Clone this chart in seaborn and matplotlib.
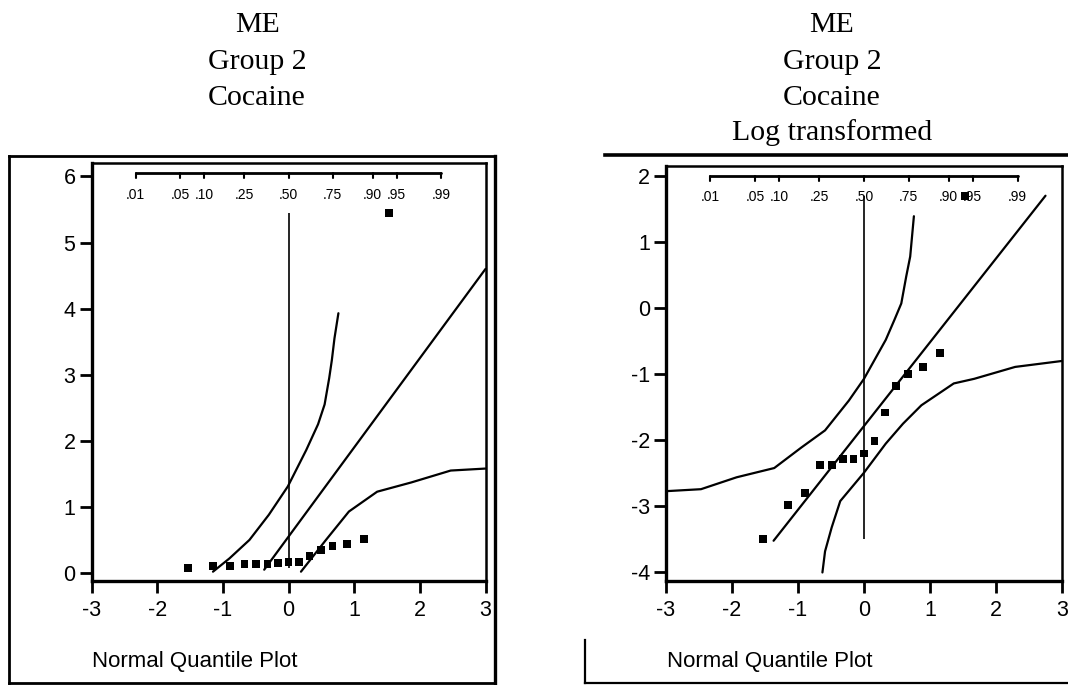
import matplotlib
matplotlib.use("Agg")
import matplotlib.pyplot as plt
from matplotlib.lines import Line2D
import seaborn as sns
import pandas as pd
import numpy as np
from statistics import NormalDist

# ---- data -------------------------------------------------------------
# normal quantile (plotting position) of each ranked observation
normal_quantiles = [-1.53, -1.15, -0.89, -0.67, -0.49, -0.32, -0.16, 0.0,
                    0.16, 0.32, 0.49, 0.67, 0.89, 1.15, 1.53]

# ME, group 2, cocaine (raw)
me_raw = [0.07, 0.10, 0.10, 0.13, 0.13, 0.13, 0.15, 0.17,
          0.17, 0.26, 0.35, 0.41, 0.44, 0.52, 5.45]
# ME, group 2, cocaine (log transformed)
me_log = [-3.49, -2.98, -2.80, -2.37, -2.37, -2.28, -2.28, -2.20,
          -2.01, -1.58, -1.18, -1.00, -0.89, -0.68, 1.70]

# fitted normal reference lines (end points)
raw_fit_x = [-0.37, 3.0]
raw_fit_y = [0.05, 4.60]
log_fit_x = [-1.37, 2.75]
log_fit_y = [-3.52, 1.70]

# confidence bands, raw panel
raw_upper_x = [-1.15, -0.90, -0.595, -0.30, -0.01, 0.27, 0.45, 0.55, 0.62, 0.66, 0.70, 0.76]
raw_upper_y = [0.02, 0.22, 0.50, 0.88, 1.31, 1.86, 2.25, 2.55, 2.95, 3.22, 3.55, 3.93]
raw_lower_x = [0.19, 0.38, 0.57, 0.92, 1.35, 1.87, 2.47, 3.0]
raw_lower_y = [0.02, 0.26, 0.50, 0.93, 1.23, 1.37, 1.55, 1.58]

# confidence bands, log panel
log_upper_x = [-3.0, -2.47, -1.93, -1.36, -0.95, -0.59, -0.23, 0.0, 0.33,
               0.46, 0.565, 0.64, 0.70, 0.756]
log_upper_y = [-2.77, -2.74, -2.56, -2.42, -2.11, -1.85, -1.40, -1.07, -0.48,
               -0.18, 0.07, 0.48, 0.78, 1.39]
log_lower_x = [-0.63, -0.59, -0.49, -0.36, 0.0, 0.33, 0.59, 0.87, 1.36,
               1.67, 2.29, 3.0]
log_lower_y = [-4.0, -3.68, -3.32, -2.92, -2.49, -2.05, -1.75, -1.47, -1.14,
               -1.07, -0.89, -0.80]

# probability scale along the top
prob_values = [0.01, 0.05, 0.10, 0.25, 0.50, 0.75, 0.90, 0.95, 0.99]
prob_labels = [".01", ".05", ".10", ".25", ".50", ".75", ".90", ".95", ".99"]

x_ticks = [-3, -2, -1, 0, 1, 2, 3]
raw_y_ticks = [0, 1, 2, 3, 4, 5, 6]
log_y_ticks = [-4, -3, -2, -1, 0, 1, 2]

left_title = ["ME", "Group 2", "Cocaine"]
right_title = ["ME", "Group 2", "Cocaine", "Log transformed"]
footer = "Normal Quantile Plot"

# ---- figure -----------------------------------------------------------
W, H = 1068, 685
sns.set_theme(style="ticks")
plt.rcParams["font.family"] = ["Liberation Sans", "DejaVu Sans"]
plt.rcParams["axes.unicode_minus"] = False
plt.rcParams["text.color"] = "black"
plt.rcParams["axes.edgecolor"] = "black"

fig = plt.figure(figsize=(W / 100, H / 100), dpi=100)
fig.patch.set_facecolor("white")


def px_axes(x0, y0, x1, y1):
    return fig.add_axes([x0 / W, 1 - y1 / H, (x1 - x0) / W, (y1 - y0) / H])


def fig_line(x0, y0, x1, y1, lw=2.0, color="black"):
    fig.add_artist(Line2D([x0 / W, x1 / W], [1 - y0 / H, 1 - y1 / H],
                          transform=fig.transFigure, color=color, lw=lw,
                          solid_capstyle="projecting"))


def quantile_panel(ax, values, fit_x, fit_y, up_x, up_y, lo_x, lo_y,
                   ylim, yticks, scale_y):
    ax.set_facecolor("white")
    # confidence curves and fitted line
    for cx, cy in [(up_x, up_y), (lo_x, lo_y), (fit_x, fit_y)]:
        sns.lineplot(x=cx, y=cy, ax=ax, color="black", lw=1.6,
                     sort=False, estimator=None, zorder=3)
    # median reference line spanning the data range
    ax.vlines(0, min(values), max(values), color="black", lw=1.2, zorder=3)

    # probability scale along the top
    nd = NormalDist()
    pz = [nd.inv_cdf(p) for p in prob_values]
    tr = ax.get_xaxis_transform()
    ax.plot([pz[0], pz[-1]], [scale_y, scale_y], transform=tr,
            color="black", lw=2.0, clip_on=False, zorder=4)
    for z, lab in zip(pz, prob_labels):
        ax.plot([z, z], [scale_y, scale_y - 0.013], transform=tr,
                color="black", lw=1.5, zorder=4)
        ax.text(z, scale_y - 0.052, lab, transform=tr, ha="center",
                va="center", fontsize=10, color="black", zorder=4)

    # data points
    sns.scatterplot(x=normal_quantiles, y=values, ax=ax, marker="s", s=32,
                    color="black", edgecolor="none", linewidth=0, zorder=6)

    ax.set_xlim(-3, 3)
    ax.set_ylim(*ylim)
    ax.set_xticks(x_ticks)
    ax.set_yticks(yticks)
    ax.set_xticklabels([str(t) for t in x_ticks])
    ax.set_yticklabels([str(t) for t in yticks])
    ax.tick_params(axis="both", direction="out", length=8.5, width=2.0,
                   labelsize=15.5, color="black", labelcolor="black")
    ax.tick_params(axis="x", pad=5)
    ax.tick_params(axis="y", pad=3)
    for side in ["left", "bottom"]:
        ax.spines[side].set_linewidth(2.4)
    for side in ["top", "right"]:
        ax.spines[side].set_linewidth(1.8)
    for sp in ax.spines.values():
        sp.set_color("black")
        sp.set_visible(True)
    ax.set_xlabel("")
    ax.set_ylabel("")


ax_l = px_axes(91.5, 163, 485.5, 581)
ax_r = px_axes(666, 166, 1062, 581)

quantile_panel(ax_l, me_raw, raw_fit_x, raw_fit_y, raw_upper_x, raw_upper_y,
               raw_lower_x, raw_lower_y, (-0.121, (573 - 163) / 66.1),
               raw_y_ticks, 0.976)
quantile_panel(ax_r, me_log, log_fit_x, log_fit_y, log_upper_x, log_upper_y,
               log_lower_x, log_lower_y, (-4.129, -4 + (572.5 - 166) / 66.1),
               log_y_ticks, 0.977)

# titles
serif = ["Liberation Serif", "DejaVu Serif"]
baselines = [32, 69, 105, 140]
for i, line in enumerate(left_title):
    fig.text(257 / W, 1 - baselines[i] / H, line, ha="center", va="baseline",
             fontsize=21.5, family=serif, color="black")
for i, line in enumerate(right_title):
    fig.text(832 / W, 1 - baselines[i] / H, line, ha="center", va="baseline",
             fontsize=21.5, family=serif, color="black")

# footers
fig.text(92 / W, 1 - 661 / H, footer, ha="left", va="center", fontsize=16,
         color="black")
fig.text(667 / W, 1 - 661 / H, footer, ha="left", va="center", fontsize=16,
         color="black")

# panel frames
fig_line(9, 156, 495, 156)
fig_line(9, 156, 9, 683)
fig_line(495, 156, 495, 683, lw=2.4)
fig_line(9, 683, 495, 683)
fig_line(605, 155, 1068, 155, lw=2.6)
fig_line(585, 640, 585, 683, lw=1.6)
fig_line(585, 683, 1068, 683, lw=1.6)

fig.savefig("out.png", dpi=100, facecolor="white")
